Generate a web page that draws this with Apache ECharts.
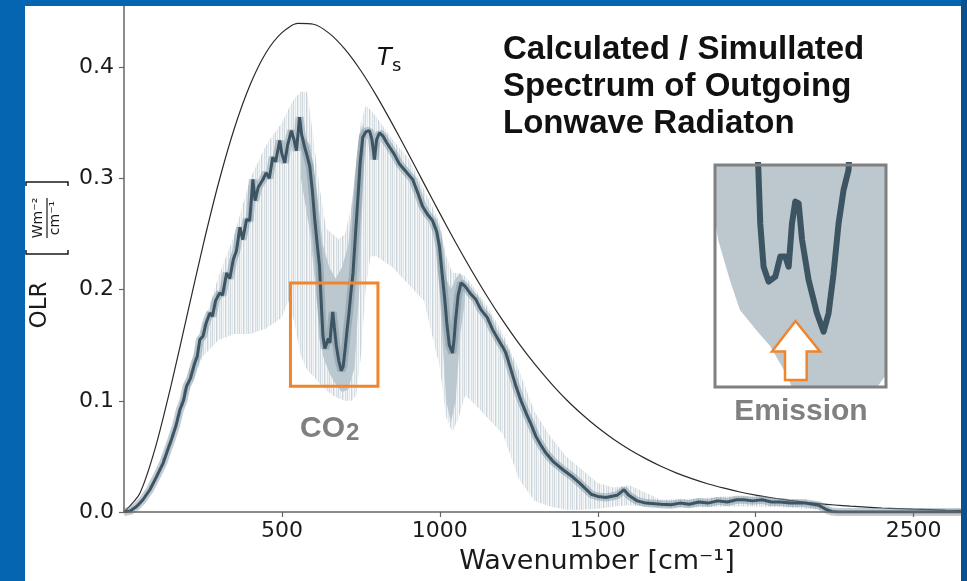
<!DOCTYPE html>
<html><head><meta charset="utf-8">
<script src="https://cdn.jsdelivr.net/npm/echarts@6/dist/echarts.min.js"></script>
<style>html,body{margin:0;padding:0;background:#0565b0;}#c{width:967px;height:581px;}</style>
</head><body><div id="c"></div>
<script>
// ---- data ----
const xTicks = [500, 1000, 1500, 2000, 2500];
const yTicks = [0, 0.1, 0.2, 0.3, 0.4];

// Surface emission curve (T_s)
const planckWavenumber = [0,50,100,150,200,250,300,350,400,450,500,550,600,650,700,750,800,850,900,950,1000,1050,1100,1150,1200,1250,1300,1350,1400,1450,1500,1550,1600,1650,1700,1750,1800,1850,1900,1950,2000,2050,2100,2150,2200,2250,2300,2350,2400,2450,2500,2550,2600,2650];
const planck = [0,0.0167,0.0585,0.1149,0.1773,0.2394,0.2965,0.3455,0.3846,0.4132,0.4311,0.4393,0.4386,0.4304,0.4160,0.3968,0.3740,0.3488,0.3223,0.2953,0.2685,0.2423,0.2174,0.1938,0.1718,0.1516,0.1331,0.1164,0.1012,0.0879,0.0759,0.0654,0.0562,0.0482,0.0411,0.0350,0.0298,0.0252,0.0214,0.0180,0.0152,0.0128,0.0107,0.0090,0.0075,0.0063,0.0052,0.0044,0.0036,0.0030,0.0025,0.0021,0.0017,0.0014];

// Smoothed OLR spectrum
const olrWavenumber = [0,20,40,60,82,100,124,140,150,165,177,188,198,210,224,232,240,250,260,272,280,290,303,312,325,335,346,356,367,376,388,398,408,415,425,440,450,460,471,480,493,500,509,518,530,538,546,556,562,572,580,588,596,604,612,619,625,630,636,642,647,652,656,661,666,672,680,688,694,700,706,712,718,725,733,741,748,756,766,777,785,793,800,809,820,830,841,855,872,890,905,914,930,945,960,977,990,999,1008,1015,1022,1030,1040,1045,1050,1058,1067,1080,1095,1114,1130,1150,1167,1185,1200,1209,1225,1241,1257,1273,1290,1304,1320,1336,1360,1390,1423,1446,1479,1500,1526,1561,1583,1598,1625,1652,1700,1732,1760,1790,1820,1849,1880,1910,1940,1963,1990,2020,2050,2077,2110,2157,2200,2225,2240,2260,2650];
const olr = [0,0.001,0.005,0.011,0.020,0.030,0.044,0.057,0.065,0.078,0.092,0.100,0.113,0.120,0.134,0.140,0.155,0.158,0.170,0.179,0.176,0.190,0.197,0.195,0.215,0.210,0.227,0.235,0.256,0.245,0.263,0.262,0.299,0.280,0.292,0.299,0.305,0.300,0.319,0.315,0.334,0.322,0.314,0.330,0.343,0.335,0.325,0.355,0.340,0.328,0.320,0.311,0.290,0.263,0.240,0.221,0.185,0.158,0.147,0.148,0.156,0.152,0.166,0.180,0.166,0.150,0.136,0.127,0.131,0.146,0.163,0.178,0.196,0.215,0.250,0.284,0.315,0.337,0.342,0.343,0.335,0.317,0.335,0.341,0.338,0.333,0.328,0.322,0.313,0.307,0.302,0.299,0.287,0.275,0.268,0.262,0.252,0.238,0.212,0.193,0.170,0.150,0.143,0.155,0.173,0.195,0.206,0.203,0.197,0.191,0.182,0.175,0.164,0.155,0.148,0.143,0.128,0.113,0.100,0.089,0.078,0.068,0.060,0.053,0.045,0.038,0.031,0.025,0.016,0.014,0.013,0.015,0.020,0.015,0.010,0.008,0.007,0.0065,0.008,0.007,0.009,0.008,0.010,0.009,0.011,0.011,0.010,0.011,0.009,0.009,0.008,0.008,0.006,0.002,0.0005,0,0];

// High-resolution spectrum envelope (light grey spikes)
const bandWavenumber = [0,50,100,150,200,250,300,350,400,450,500,520,540,560,580,600,620,640,660,680,700,720,735,750,765,780,800,850,900,950,1000,1020,1040,1060,1080,1100,1150,1200,1250,1300,1350,1400,1450,1500,1550,1600,1700,1800,1900,2000,2100,2200,2250,2300];
const bandLow  = [0,0.006,0.027,0.060,0.105,0.140,0.155,0.160,0.160,0.165,0.175,0.190,0.170,0.140,0.128,0.122,0.115,0.110,0.105,0.102,0.100,0.100,0.105,0.140,0.200,0.230,0.230,0.220,0.205,0.190,0.130,0.085,0.072,0.085,0.105,0.100,0.085,0.070,0.030,0.010,0.005,0.002,0.002,0.003,0.005,0.006,0.004,0.004,0.005,0.005,0.004,0.002,0,0];
const bandHigh = [0,0.009,0.033,0.070,0.122,0.168,0.212,0.250,0.300,0.330,0.350,0.362,0.372,0.378,0.378,0.335,0.290,0.255,0.250,0.245,0.250,0.275,0.310,0.350,0.365,0.362,0.355,0.335,0.318,0.290,0.260,0.230,0.215,0.215,0.212,0.205,0.185,0.160,0.128,0.090,0.068,0.050,0.038,0.026,0.022,0.024,0.011,0.012,0.014,0.014,0.012,0.009,0.002,0];

// Dense absorption regions
const co2BandWavenumber = [560,590,610,630,650,670,690,710,730,745,760];
const co2BandLow  = [0.30,0.25,0.19,0.14,0.125,0.115,0.108,0.110,0.13,0.20,0.32];
const co2BandHigh = [0.34,0.33,0.29,0.24,0.22,0.21,0.22,0.24,0.30,0.34,0.35];
const o3BandWavenumber = [990,1005,1020,1035,1050,1065,1080];
const o3BandLow  = [0.24,0.17,0.10,0.08,0.10,0.16,0.19];
const o3BandHigh = [0.26,0.24,0.21,0.20,0.21,0.215,0.205];

// Inset (zoom of the CO2 emission feature)
const insetWavenumber = [625.0,625.7,627.5,630.7,635.5,642.0,646.8,651.6,654.8,658.0,661.2,664.4,667.7,674.0,682.0,688.4,693.2,698.0,702.8,707.6,712.4,713.0];
const insetOLR = [0.196,0.1905,0.170,0.1534,0.1477,0.1496,0.1573,0.1573,0.1534,0.170,0.1784,0.1777,0.1637,0.1483,0.1356,0.1285,0.1356,0.1509,0.170,0.1828,0.1905,0.196];
const insetBandWavenumber = [584,587,598.5,608,624,637,650,658,740,748.4];
const insetBandLow  = [0.172,0.1637,0.148,0.1368,0.129,0.123,0.114,0.1073,0.1073,0.112];
const insetBandHigh = [0.1924,0.1924,0.1924,0.1924,0.1924,0.1924,0.1924,0.1924,0.1924,0.1924];

// ---- helpers ----
const zip = (xs, ys) => xs.map((x, i) => [x, ys[i]]);

// streaky fill imitating the many thin absorption lines
const stripe = document.createElement('canvas');
stripe.width = 9; stripe.height = 4;
(function () {
  const ctx = stripe.getContext('2d');
  const cols = ['#c9d3d9', '#e6ebee', '#f5f7f8', '#d7dfe3', '#edf1f3', '#cfd8dd', '#f2f5f6', '#e1e7ea', '#f7f9fa'];
  cols.forEach((c, i) => { ctx.fillStyle = c; ctx.fillRect(i, 0, 1, 4); });
})();

function bandSeries(xs, lows, highs, fill, axisIdx, z) {
  return {
    type: 'custom', xAxisIndex: axisIdx, yAxisIndex: axisIdx, silent: true, z: z,
    data: xs.map((x, i) => [x, lows[i], highs[i]]),
    encode: { x: 0, y: [1, 2] },
    renderItem: function (params, api) {
      if (params.dataIndex !== 0) return null;
      const top = [], bot = [];
      for (let i = 0; i < xs.length; i++) {
        top.push(api.coord([xs[i], highs[i]]));
        bot.push(api.coord([xs[i], lows[i]]));
      }
      const cs = params.coordSys;
      return {
        type: 'polygon',
        shape: { points: top.concat(bot.reverse()) },
        style: { fill: fill },
        clipPath: { type: 'rect', shape: { x: cs.x, y: cs.y, width: cs.width, height: cs.height } }
      };
    }
  };
}

const chart = echarts.init(document.getElementById('c'), null, { renderer: 'canvas' });
const FONT = 'DejaVu Sans';
const BOLD = 'Liberation Sans';

const option = {
  backgroundColor: '#ffffff',
  animation: false,
  grid: [
    { left: 124, right: 6, top: 6, bottom: 69, outerBoundsMode: 'none' },
    { left: 715, top: 165, width: 171, height: 222, outerBoundsMode: 'none' }
  ],
  xAxis: [
    {
      type: 'value', min: 0, max: 2650, gridIndex: 0, z: 5,
      axisLine: { show: true, lineStyle: { color: '#666', width: 1.5 } },
      axisTick: { show: true, length: 5, customValues: xTicks, lineStyle: { color: '#666', width: 1.2 } },
      axisLabel: { customValues: xTicks, color: '#1a1a1a', fontFamily: FONT, fontSize: 22, margin: 8,
        formatter: v => String(v) },
      splitLine: { show: false }
    },
    { type: 'value', gridIndex: 1, min: 584, max: 748.4, show: false }
  ],
  yAxis: [
    {
      type: 'value', min: 0, max: 0.455, gridIndex: 0, z: 5,
      axisLine: { show: true, lineStyle: { color: '#666', width: 1.5 } },
      axisTick: { show: true, length: 5, customValues: yTicks, lineStyle: { color: '#666', width: 1.2 } },
      axisLabel: { customValues: yTicks, color: '#1a1a1a', fontFamily: FONT, fontSize: 22, margin: 10,
        formatter: v => v.toFixed(1) },
      splitLine: { show: false }
    },
    { type: 'value', gridIndex: 1, min: 0.1073, max: 0.1924, show: false }
  ],
  series: [
    bandSeries(bandWavenumber, bandLow, bandHigh, { image: stripe, repeat: 'repeat' }, 0, 1),
    bandSeries(co2BandWavenumber, co2BandLow, co2BandHigh, '#bcc8cf', 0, 1),
    bandSeries(o3BandWavenumber, o3BandLow, o3BandHigh, '#bcc8cf', 0, 1),
    {
      type: 'line', data: zip(planckWavenumber, planck), symbol: 'none', smooth: 0.25,
      lineStyle: { color: '#2a2a2a', width: 1.2 }, silent: true, z: 3
    },
    {
      type: 'line', data: zip(olrWavenumber, olr), symbol: 'none',
      lineStyle: { color: 'rgba(120,143,158,0.45)', width: 8 }, silent: true, z: 3
    },
    {
      type: 'line', data: zip(olrWavenumber, olr), symbol: 'none',
      lineStyle: { color: '#3d5462', width: 3 }, silent: true, z: 4,
      markArea: {
        silent: true, z: 10,
        itemStyle: { color: 'rgba(0,0,0,0)', borderColor: '#f0852d', borderWidth: 3 },
        label: { show: false },
        data: [[{ xAxis: 527, yAxis: 0.206 }, { xAxis: 804, yAxis: 0.113 }]]
      }
    },
    bandSeries(insetBandWavenumber, insetBandLow, insetBandHigh, '#bcc7ce', 1, 6),
    {
      type: 'line', xAxisIndex: 1, yAxisIndex: 1, data: zip(insetWavenumber, insetOLR), symbol: 'none',
      lineStyle: { color: '#3d5462', width: 6, join: 'round' }, silent: true, z: 7
    }
  ],
  graphic: [
    // frame
    { type: 'rect', z: 100, shape: { x: 0, y: 0, width: 25, height: 581 }, style: { fill: '#0565b0' } },
    { type: 'rect', z: 100, shape: { x: 0, y: 0, width: 967, height: 6 }, style: { fill: '#0565b0' } },
    { type: 'rect', z: 100, shape: { x: 961, y: 0, width: 6, height: 581 }, style: { fill: '#0b5192' } },
    // title
    { type: 'text', z: 20, x: 503, y: 33, style: { text: 'Calculated / Simullated', font: 'bold 33px "' + BOLD + '"', fill: '#111' } },
    { type: 'text', z: 20, x: 503, y: 70, style: { text: 'Spectrum of Outgoing', font: 'bold 33px "' + BOLD + '"', fill: '#111' } },
    { type: 'text', z: 20, x: 503, y: 107, style: { text: 'Lonwave Radiaton', font: 'bold 33px "' + BOLD + '"', fill: '#111' } },
    // Ts
    { type: 'text', z: 20, x: 377, y: 47, style: { text: 'T', font: 'italic 24px "' + FONT + '"', fill: '#111' } },
    { type: 'text', z: 20, x: 392, y: 57, style: { text: 's', font: '18px "' + FONT + '"', fill: '#111' } },
    // CO2 label
    { type: 'text', z: 20, x: 300, y: 414, style: { text: 'CO', font: 'bold 30px "' + BOLD + '"', fill: '#808080' } },
    { type: 'text', z: 20, x: 346, y: 421, style: { text: '2', font: 'bold 24px "' + BOLD + '"', fill: '#808080' } },
    // inset border, arrow, label
    { type: 'rect', z: 30, shape: { x: 715, y: 165, width: 171, height: 222 }, style: { fill: 'none', stroke: '#808080', lineWidth: 3 } },
    { type: 'polygon', z: 31, shape: { points: [[795.5, 321], [772, 351.5], [785, 351.5], [785, 380], [806.7, 380], [806.7, 351.5], [820, 351.5]] },
      style: { fill: '#ffffff', stroke: '#f0852d', lineWidth: 2.5 } },
    { type: 'text', z: 20, x: 801, y: 397, style: { text: 'Emission', font: 'bold 30px "' + BOLD + '"', fill: '#808080', textAlign: 'center' } },
    // axis names
    { type: 'text', z: 20, x: 597, y: 562, style: { text: 'Wavenumber [cm\u207B\u00B9]', font: '27px "' + FONT + '"', fill: '#1a1a1a', textAlign: 'center', textVerticalAlign: 'middle' } },
    { type: 'text', z: 20, x: 40, y: 305, rotation: Math.PI / 2, style: { text: 'OLR', font: '23px "' + FONT + '"', fill: '#1a1a1a', textAlign: 'center', textVerticalAlign: 'middle' } },
    { type: 'group', z: 20, x: 46, y: 218, rotation: Math.PI / 2, children: [
      { type: 'text', x: 0, y: -8, style: { text: 'Wm\u207B\u00B2', font: '14px "' + FONT + '"', fill: '#1a1a1a', textAlign: 'center', textVerticalAlign: 'middle' } },
      { type: 'text', x: 0, y: 9, style: { text: 'cm\u207B\u00B9', font: '14px "' + FONT + '"', fill: '#1a1a1a', textAlign: 'center', textVerticalAlign: 'middle' } },
      { type: 'line', shape: { x1: -20, y1: 1, x2: 20, y2: 1 }, style: { stroke: '#1a1a1a', lineWidth: 1.2 } },
      { type: 'polyline', shape: { points: [[-32, -20], [-36, -20], [-36, 22], [-32, 22]] }, style: { stroke: '#1a1a1a', lineWidth: 1.5, fill: 'none' } },
      { type: 'polyline', shape: { points: [[32, -20], [36, -20], [36, 22], [32, 22]] }, style: { stroke: '#1a1a1a', lineWidth: 1.5, fill: 'none' } }
    ] }
  ]
};
chart.setOption(option);
</script>
</body></html>
